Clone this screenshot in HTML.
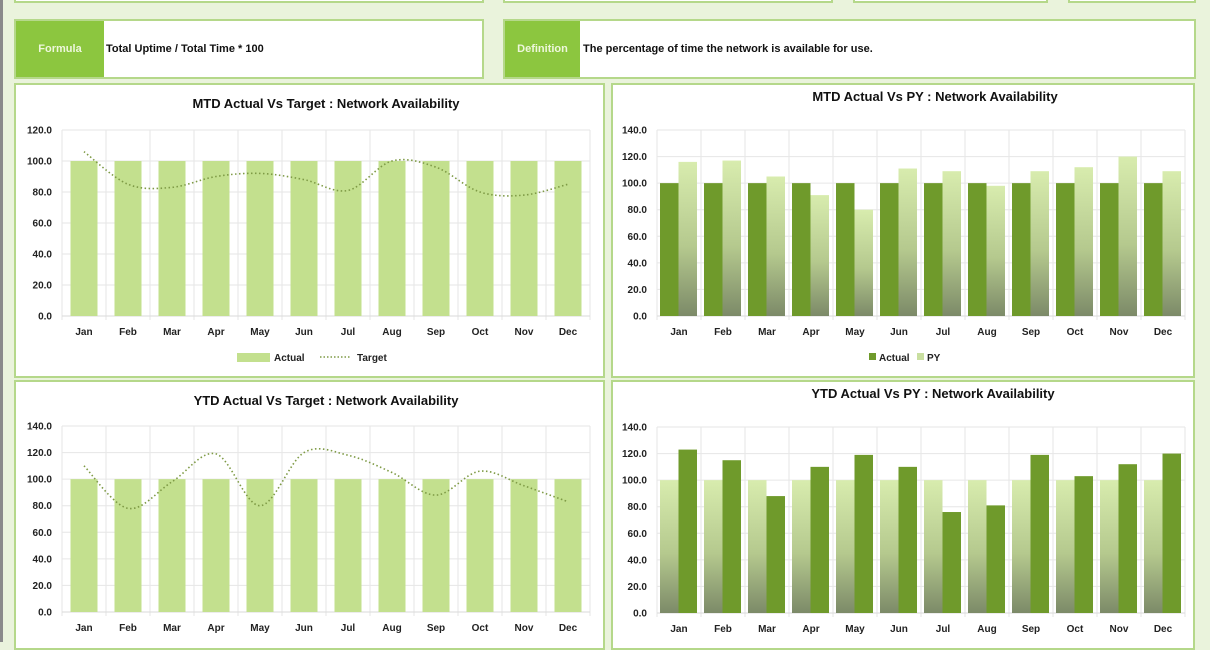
<!DOCTYPE html>
<html><head><meta charset="utf-8">
<style>
html,body{margin:0;padding:0;width:1210px;height:642px;overflow:hidden;background:#eaf3dc;font-family:"Liberation Sans",sans-serif}
.abs{position:absolute}
.box{position:absolute;background:#fff;border:2px solid #b5d88a;box-sizing:border-box}
.lab{position:absolute;left:0;top:0;bottom:0;background:#8cc63f;color:#eef7dc;font-weight:bold;font-size:11px;display:flex;align-items:center;justify-content:center}
.txt{position:absolute;top:0;bottom:0;display:flex;align-items:center;font-size:11px;font-weight:bold;color:#111}
svg text{font-family:"Liberation Sans",sans-serif;font-weight:bold}
</style></head><body>
<div class="abs" style="left:0;top:0;width:3px;height:642px;background:#8a8a8a"></div>
<div class="box" style="left:14px;top:-10px;width:470px;height:13px"></div>
<div class="box" style="left:503px;top:-10px;width:330px;height:13px"></div>
<div class="box" style="left:853px;top:-10px;width:195px;height:13px"></div>
<div class="box" style="left:1068px;top:-10px;width:128px;height:13px"></div>

<div class="box" style="left:14px;top:19px;width:470px;height:60px"><div class="lab" style="width:88px">Formula</div><div class="txt" style="left:90px">Total Uptime / Total Time * 100</div></div>
<div class="box" style="left:503px;top:19px;width:693px;height:60px"><div class="lab" style="width:75px">Definition</div><div class="txt" style="left:78px">The percentage of time the network is available for use.</div></div>

<div class="box" style="left:14px;top:83px;width:591px;height:295px"></div>
<div class="box" style="left:611px;top:83px;width:584px;height:295px"></div>
<div class="box" style="left:14px;top:380px;width:591px;height:270px"></div>
<div class="box" style="left:611px;top:380px;width:584px;height:270px"></div>

<svg id="s" class="abs" style="left:0;top:0" width="1210" height="642">
<defs>
<linearGradient id="gl" x1="0" y1="0" x2="0" y2="1"><stop offset="0" stop-color="#d8ecae"/><stop offset="0.55" stop-color="#b5c98e"/><stop offset="1" stop-color="#7c8a68"/></linearGradient>
</defs>
</svg>
<script>
var s=document.getElementById('s'),NS='http://www.w3.org/2000/svg';
function el(t,a,tx){var e=document.createElementNS(NS,t);for(var k in a)e.setAttribute(k,a[k]);if(tx!=null)e.textContent=tx;s.appendChild(e);return e}
var M=['Jan','Feb','Mar','Apr','May','Jun','Jul','Aug','Sep','Oct','Nov','Dec'];
function axes(x0,x1,yT,yB,max,title,ty,tx){
 var n=max/20;
 for(var i=0;i<=n;i++){var y=yB-(yB-yT)*i/n;el('line',{x1:x0,x2:x1,y1:y,y2:y,stroke:'#e6e6e6','stroke-width':1});
  el('text',{x:x0-10,y:y+3.5,'font-size':10,'text-anchor':'end',fill:'#222'},(i*20).toFixed(1));}
 var w=(x1-x0)/12;
 for(var i=0;i<=12;i++){var x=x0+w*i;el('line',{x1:x,x2:x,y1:yT,y2:yB+4,stroke:'#e6e6e6'});}
 el('line',{x1:x0,x2:x1,y1:yB,y2:yB,stroke:'#d9d9d9'});
 for(var i=0;i<12;i++)el('text',{x:x0+w*(i+.5),y:yB+19,'font-size':10,'text-anchor':'middle',fill:'#222'},M[i]);
 el('text',{x:tx,y:ty,'font-size':13,'text-anchor':'middle',fill:'#111'},title);
 return w;}
function curve(pts){var d='M'+pts[0][0]+','+pts[0][1];
 for(var i=0;i<pts.length-1;i++){var p0=pts[i-1]||pts[i],p1=pts[i],p2=pts[i+1],p3=pts[i+2]||p2;
  d+=' C'+(p1[0]+(p2[0]-p0[0])/6)+','+(p1[1]+(p2[1]-p0[1])/6)+' '+(p2[0]-(p3[0]-p1[0])/6)+','+(p2[1]-(p3[1]-p1[1])/6)+' '+p2[0]+','+p2[1];}
 return d;}
function tgtChart(x0,x1,yT,yB,max,title,ty,tgt,legend){
 var w=axes(x0,x1,yT,yB,max,title,ty,(x0+x1)/2),sc=(yB-yT)/max,pts=[];
 for(var i=0;i<12;i++){var cx=x0+w*(i+.5);el('rect',{x:cx-13.5,y:yB-100*sc,width:27,height:100*sc,fill:'#c3e08e'});pts.push([cx,yB-tgt[i]*sc]);}
 el('path',{d:curve(pts),fill:'none',stroke:'#7e9a45','stroke-width':1.6,'stroke-dasharray':'1.5 2.5'});
 if(legend){el('rect',{x:237,y:353,width:33,height:9,fill:'#c3e08e'});el('text',{x:274,y:361,'font-size':10,fill:'#222'},'Actual');
  el('line',{x1:320,x2:350,y1:357,y2:357,stroke:'#7e9a45','stroke-width':1.5,'stroke-dasharray':'1.5 2'});el('text',{x:357,y:361,'font-size':10,fill:'#222'},'Target');}
}
function pyChart(x0,x1,yT,yB,max,title,ty,tx,lightFirst,a,b,legend){
 var w=axes(x0,x1,yT,yB,max,title,ty,tx),sc=(yB-yT)/max;
 for(var i=0;i<12;i++){var cx=x0+w*(i+.5);
  var v1=a[i],v2=b[i];
  el('rect',{x:cx-19,y:yB-v1*sc,width:18.5,height:v1*sc,fill:lightFirst?'url(#gl)':'#6f9a2b'});
  el('rect',{x:cx-0.5,y:yB-v2*sc,width:18.5,height:v2*sc,fill:lightFirst?'#6f9a2b':'url(#gl)'});}
 if(legend){el('rect',{x:869,y:353,width:7,height:7,fill:'#6f9a2b'});el('text',{x:879,y:361,'font-size':10,fill:'#222'},'Actual');
  el('rect',{x:917,y:353,width:7,height:7,fill:'#c9dfa0'});el('text',{x:927,y:361,'font-size':10,fill:'#222'},'PY');}
}
tgtChart(62,590,130,316,120,'MTD Actual Vs Target : Network Availability',108,[106,85,83,90,92,88,81,100,96,80,78,85],true);
tgtChart(62,590,426,612,140,'YTD Actual Vs Target : Network Availability',405,[110,78,98,119,80,120,118,105,88,106,95,83],false);
var ones=[100,100,100,100,100,100,100,100,100,100,100,100];
pyChart(657,1185,130,316,140,'MTD Actual Vs PY : Network Availability',101,935,false,ones,[116,117,105,91,80,111,109,98,109,112,120,109],true);
pyChart(657,1185,427,613,140,'YTD Actual Vs PY : Network Availability',398,933,true,ones,[123,115,88,110,119,110,76,81,119,103,112,120],false);
</script>
</body></html>
